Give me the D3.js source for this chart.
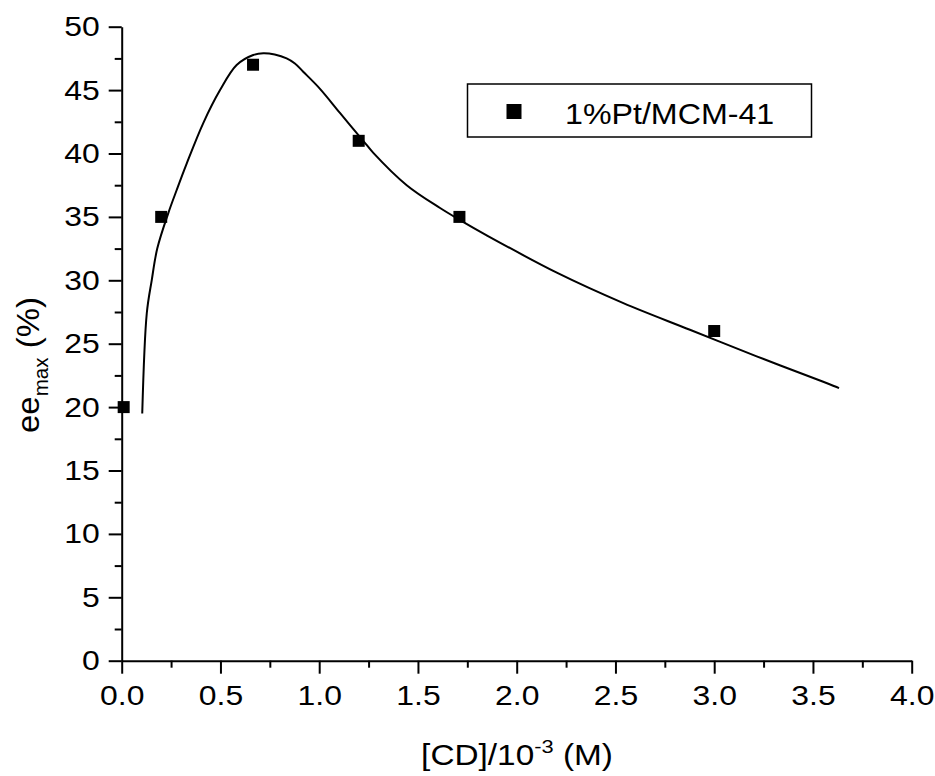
<!DOCTYPE html>
<html>
<head>
<meta charset="utf-8">
<script src="https://cdn.jsdelivr.net/npm/d3@7"></script>
<style>
  html, body { margin: 0; padding: 0; background: #fff; }
  svg { display: block; font-family: "Liberation Sans", Arial, sans-serif; }
</style>
</head>
<body>
<svg id="chart" width="935" height="776"></svg>
<script>
// Measured enantiomeric excess vs. cinchonidine concentration
const concentration = [0.01, 0.2, 0.665, 1.2, 1.71, 3.0];
const eeMax = [20, 35, 47, 41, 35, 26];

// Fitted trend curve
const fitX = [0.104, 0.127, 0.152, 0.180, 0.236, 0.278, 0.329, 0.413, 0.498, 0.582, 0.666, 0.717,
              0.775, 0.835, 0.877, 0.919, 1.004, 1.105, 1.223, 1.274, 1.443, 1.612, 1.713, 1.848,
              2.203, 2.540, 2.877, 3.215, 3.552, 3.632];
const fitY = [19.5, 27.4, 30.0, 32.5, 35.3, 37.1, 39.2, 42.4, 45.0, 46.98, 47.77, 47.9,
              47.8, 47.5, 47.1, 46.45, 45.1, 43.2, 41.0, 40.05, 37.5, 35.7, 34.75, 33.55,
              30.6, 28.2, 26.1, 24.0, 22.0, 21.5];

const xTicks = [0, 0.5, 1, 1.5, 2, 2.5, 3, 3.5, 4];
const xMinor = [0.25, 0.75, 1.25, 1.75, 2.25, 2.75, 3.25, 3.75];
const yTicks = [0, 5, 10, 15, 20, 25, 30, 35, 40, 45, 50];
const yMinor = [2.5, 7.5, 12.5, 17.5, 22.5, 27.5, 32.5, 37.5, 42.5, 47.5];

const seriesName = "1%Pt/MCM-41";

const svg = d3.select("#chart");
const plotLeft = 121.7, plotRight = 911.7, plotTop = 26.7, plotBottom = 660.7;
const stretch = 1.14; // glyphs are drawn a little wider than tall

const x = d3.scaleLinear().domain([0, 4]).range([plotLeft, plotRight]);
const y = d3.scaleLinear().domain([0, 50]).range([plotBottom, plotTop]);

function styleAxis(g) {
  g.selectAll("path, line").attr("stroke", "#000").attr("stroke-width", 2);
  g.selectAll("text").attr("fill", "#000").attr("font-size", 28)
    .attr("font-family", "'Liberation Sans', Arial, sans-serif");
}

// minor ticks
svg.append("g").attr("transform", `translate(0,${plotBottom})`)
  .call(d3.axisBottom(x).tickValues(xMinor).tickSize(7).tickSizeOuter(0).tickFormat(""))
  .call(styleAxis).select(".domain").remove();
svg.append("g").attr("transform", `translate(${plotLeft},0)`)
  .call(d3.axisLeft(y).tickValues(yMinor).tickSize(7).tickSizeOuter(0).tickFormat(""))
  .call(styleAxis).select(".domain").remove();

// major axes
const xAxis = svg.append("g").attr("transform", `translate(0,${plotBottom})`)
  .call(d3.axisBottom(x).tickValues(xTicks).tickSize(13).tickSizeOuter(0).tickPadding(11)
    .tickFormat(d3.format(".1f")))
  .call(styleAxis);
xAxis.selectAll("text").attr("dy", "0.71em").attr("transform", `scale(${stretch},1)`);

const yAxis = svg.append("g").attr("transform", `translate(${plotLeft},0)`)
  .call(d3.axisLeft(y).tickValues(yTicks).tickSize(13).tickSizeOuter(0).tickPadding(9)
    .tickFormat(d3.format("d")))
  .call(styleAxis);
yAxis.selectAll("text").attr("x", -22 / stretch).attr("transform", `scale(${stretch},1)`);

// fitted curve
const line = d3.line()
  .x((d, i) => x(fitX[i]))
  .y((d, i) => y(fitY[i]))
  .curve(d3.curveCatmullRom.alpha(0.5));
svg.append("path")
  .datum(fitX)
  .attr("d", line)
  .attr("fill", "none")
  .attr("stroke", "#000")
  .attr("stroke-width", 2);

// data markers
const m = 12;
svg.append("g").selectAll("rect")
  .data(concentration)
  .join("rect")
  .attr("x", (d) => x(d) - m / 2)
  .attr("y", (d, i) => y(eeMax[i]) - m / 2)
  .attr("width", m)
  .attr("height", m)
  .attr("fill", "#000");

// legend
const lg = svg.append("g");
lg.append("rect").attr("x", 467.5).attr("y", 84).attr("width", 344).attr("height", 53)
  .attr("fill", "#fff").attr("stroke", "#000").attr("stroke-width", 1.5);
lg.append("rect").attr("x", 514 - 7.5).attr("y", 111.5 - 7.5).attr("width", 15).attr("height", 15)
  .attr("fill", "#000");
lg.append("text").attr("transform", "translate(565,124) scale(1.11,1)")
  .attr("font-size", 29).attr("fill", "#000")
  .text(seriesName);

// axis titles
const xt = svg.append("text").attr("transform", "translate(517,765) scale(1.15,1)")
  .attr("text-anchor", "middle").attr("font-size", 29).attr("fill", "#000");
xt.append("tspan").text("[CD]/10");
xt.append("tspan").attr("font-size", 19).attr("dy", -12).text("-3");
xt.append("tspan").attr("dy", 12).text(" (M)");

const yt = svg.append("text")
  .attr("transform", "translate(39,365) rotate(-90) scale(1.03,1)")
  .attr("text-anchor", "middle").attr("font-size", 32).attr("fill", "#000");
yt.append("tspan").text("ee");
yt.append("tspan").attr("font-size", 20).attr("dy", 9).text("max");
yt.append("tspan").attr("dy", -9).text(" (%)");
</script>
</body>
</html>
